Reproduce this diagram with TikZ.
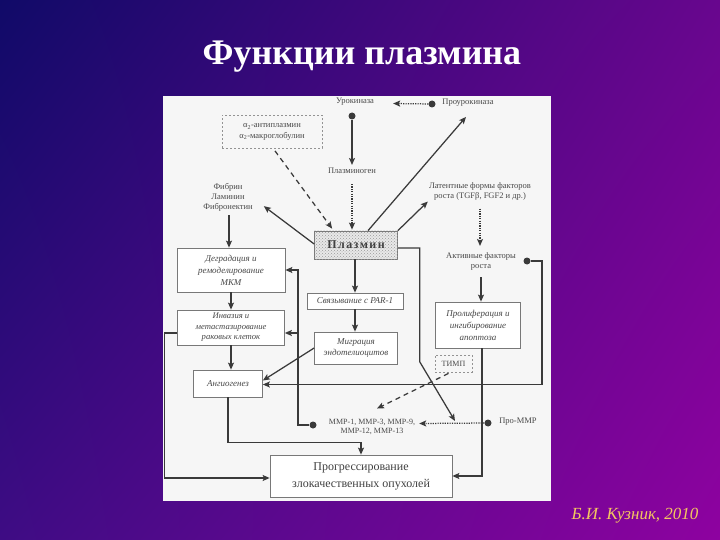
\documentclass[tikz,border=0pt]{standalone}
\usepackage{fontspec}
\setmainfont{Liberation Serif}
\usetikzlibrary{arrows.meta,calc,patterns,shadings}
\definecolor{bgUL}{RGB}{16,10,104}
\definecolor{bgUR}{RGB}{104,6,142}
\definecolor{bgLL}{RGB}{62,12,132}
\definecolor{bgLR}{RGB}{142,2,160}
\definecolor{panel}{RGB}{246,246,246}
\definecolor{tcol}{RGB}{72,72,72}
\definecolor{bcol}{RGB}{120,120,120}
\definecolor{lcol}{RGB}{58,58,58}
\definecolor{author}{RGB}{244,200,96}
\begin{document}
\begin{tikzpicture}[x=1pt,y=-1pt,
  lbl/.style={font=\fontsize{8.5}{10}\selectfont, text=tcol, align=center, inner sep=0pt},
  ibox/.style={draw=bcol, line width=0.7pt, fill=white, inner sep=0pt, align=center, text=tcol,
               font=\fontsize{9}{11}\selectfont\itshape},
  dbox/.style={draw=bcol!80, line width=0.8pt, dash pattern=on 2pt off 2pt, inner sep=0pt, align=center,
               text=tcol, font=\fontsize{8.5}{10.5}\selectfont},
  ln/.style={draw=lcol, line width=1.25pt},
  ar/.style={ln, -{Stealth[length=7pt,width=6pt,inset=1.5pt]}},
  dotl/.style={dash pattern=on 1.2pt off 1.2pt},
  dsh/.style={dash pattern=on 5pt off 4pt},
  blob/.style={circle, fill=lcol, inner sep=0pt, minimum size=7pt}
]
\useasboundingbox (0,0) rectangle (720,540);
\shade[upper left=bgUL, upper right=bgUR, lower left=bgLL, lower right=bgLR] (0,0) rectangle (720,540);

% title and author
\node[text=white, font=\fontsize{36}{40}\selectfont\bfseries] (title) at (362,57) {Функции плазмина};
\node[text=author, font=\fontsize{17}{20}\selectfont\itshape] (auth) at (635,516) {Б.И. Кузник, 2010};

% panel
\fill[panel] (163,96) rectangle (551,501);

% labels
\node[lbl] (uro) at (355,102) {Урокиназа};
\node[lbl] (prouro) at (468,103) {Проурокиназа};
\node[blob] (uroDot) at (352,116) {};
\node[blob] (prouroDot) at (432,104) {};
\node[dbox, minimum width=100, minimum height=33] (a2) at (272,132)
  {α\textsubscript{2}-антиплазмин\\α\textsubscript{2}-макроглобулин};
\node[lbl] (plg) at (352,171) {Плазминоген};
\node[lbl] (fib) at (228,197) {Фибрин\\Ламинин\\Фибронектин};
\node[draw=bcol, line width=0.7pt, fill=gray!18, postaction={pattern=crosshatch dots, pattern color=gray!80},
      minimum width=83, minimum height=28, inner sep=0pt, text=black!75,
      font=\fontsize{12}{14}\selectfont\bfseries\addfontfeature{LetterSpace=12}] (pl) at (356,245) {Плазмин};
\node[lbl] (lat) at (480,191.5) {Латентные формы факторов\\роста (TGFβ, FGF2 и др.)};
\node[lbl] (act) at (481,261) {Активные факторы\\роста};
\node[blob] (actDot) at (527,261) {};

\node[ibox, minimum width=108, minimum height=44, font=\fontsize{9}{12}\selectfont\itshape] (deg) at (231,270) {Деградация и\\ремоделирование\\МКМ};
\node[ibox, minimum width=107, minimum height=35, font=\fontsize{8.6}{10.5}\selectfont\itshape] (inv) at (231,327.5) {Инвазия и\\метастазирование\\раковых клеток};
\node[ibox, minimum width=69, minimum height=27] (ang) at (228,383.5) {Ангиогенез};
\node[ibox, minimum width=96, minimum height=16] (par) at (355,301) {Связывание с PAR-1};
\node[ibox, minimum width=83, minimum height=32] (mig) at (356,348) {Миграция\\эндотелиоцитов};
\node[ibox, minimum width=85, minimum height=46, font=\fontsize{9}{12}\selectfont\itshape] (prol) at (478,325) {Пролиферация и\\ингибирование\\апоптоза};
\node[dbox, minimum width=37, minimum height=17, font=\fontsize{8}{10}\selectfont] (timp) at (453.5,363.5) {ТИМП};
\node[lbl, font=\fontsize{8}{9}\selectfont] (mmp) at (372,426.5) {MMP-1, MMP-3, MMP-9,\\MMP-12, MMP-13};
\node[blob] (mmpDot) at (313,425) {};
\node[blob] (proDot) at (488,423) {};
\node[lbl] (prommp) at (518,422) {Про-MMP};
\node[draw=bcol, line width=0.7pt, fill=white, minimum width=182, minimum height=42, inner sep=0pt,
      align=center, text=black!75, font=\fontsize{12}{17}\selectfont] (prog) at (361,476)
      {Прогрессирование\\злокачественных опухолей};

\coordinate (rb) at (542,261);
\coordinate (actPt) at (455,421);

% connectors
\draw[ar] (uroDot) -- ($(uroDot |- plg.north)+(0,-3)$);
\draw[ar, dotl] (prouroDot) -- ($(uro.east)+(19,1.5)$);
\draw[ar, dotl] ($(plg.south)+(0,10)$) -- ($(plg.south |- pl.north)+(0,-1)$);
\draw[ar, dsh] ($(a2.south)+(3,2)$) -- ($(pl.north west)+(18,-2)$);
\draw[ar] ($(pl.west)+(0,-1)$) -- ($(fib.south east)+(11,-5)$);
\draw[ar] ($(pl.north)+(12,0)$) -- ($(prouro.south)+(-2,10)$);
\draw[ar] (pl.north east) -- ($(lat.south west)+(-1,1)$);
\draw[ar] ($(fib.south)+(1,4)$) -- ($(fib.south |- deg.north)+(1,0)$);
\draw[ar, dotl] ($(lat.south)+(0,8)$) -- ($(lat.south |- act.north)+(0,-6)$);
\draw[ar] ($(act.south)+(0,7)$) -- (act.south |- prol.north);
\draw[ar] (par.north |- pl.south) -- (par.north);
\draw[ar] (par.south) -- (par.south |- mig.north);
\draw[ar] (mig.west) -- ($(ang.east)+(0,-3)$);
\draw[ar] (deg.south) -- (deg.south |- inv.north);
\draw[ar] (inv.south) -- (inv.south |- ang.north);
\draw[ar] (actDot) -- (rb) |- ($(ang.east)+(0,1)$);
\draw[ar] ($(prol.south)+(4,0)$) |- (prog.east);
\draw[ar] ($(inv.west)+(0,5.5)$) -- ++(-13,0) |- ($(prog.west)+(0,2)$);
\draw[ar] (ang.south) -- ++(0,45) -| (prog.north);
\draw[ar] (mmpDot) -- ++(-15,0) |- (deg.east);
\draw[ar] ($(inv.east)+(13,5.5)$) -- ($(inv.east)+(0,5.5)$);
\draw[ar] ($(pl.east)+(0,3)$) -- ++(22,0) -- ++(0,114) -- (actPt);
\draw[ar, dotl] (proDot) -- ($(mmp.east)+(4,-3)$);
\draw[ar, dsh] ($(timp.south)+(-5,1)$) -- ($(mmp.north)+(5,-10)$);
\end{tikzpicture}
\end{document}
